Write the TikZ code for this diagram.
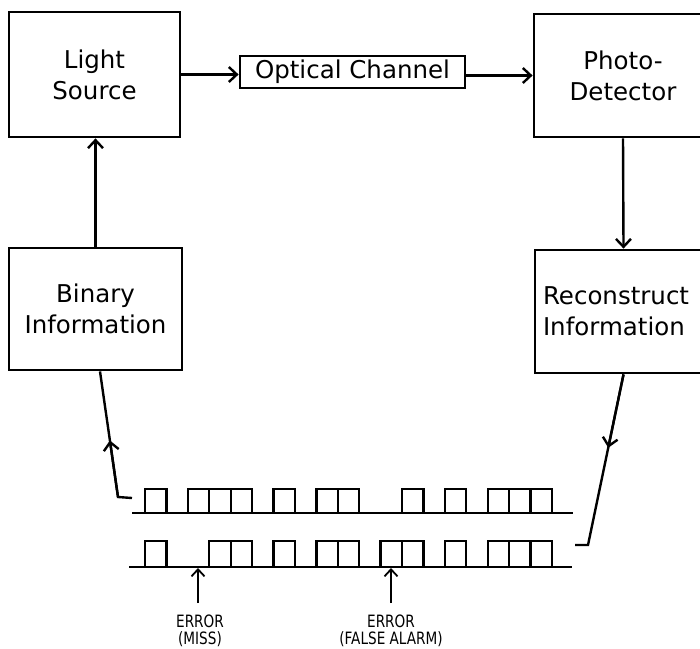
\documentclass[tikz,border=0pt]{standalone}
\usepackage{fontspec}
\setmainfont{DejaVu Sans}
\usetikzlibrary{arrows.meta,calc}
\begin{document}
\begin{tikzpicture}[x=1pt,y=-1pt,
  box/.style={draw,line width=2.8pt,inner sep=0pt,align=center,font=\fontsize{24.5}{31}\selectfont},
  tip/.style={-{Straight Barb[length=8pt,width=15pt,line width=2.4pt]}},
  conn/.style={line width=2.4pt,tip},
  wire/.style={line width=2.4pt},
  pulse/.style={line width=2.3pt},
  lab/.style={align=center,inner sep=0pt,font=\fontsize{17}{17}\selectfont}]
\useasboundingbox (0,0) rectangle (700,648);
\clip (0,0) rectangle (700,648);
% boxes
\node[box,minimum width=171pt,minimum height=125pt] (ls) at (94.5,74.5) {Light\\Source};
\node[box,minimum width=225pt,minimum height=32pt] (oc) at (352.5,72) {Optical Channel};
\node[box,minimum width=178pt,minimum height=123pt] (pd) at (623,75.5) {Photo-\\Detector};
\node[box,minimum width=173pt,minimum height=122pt] (bi) at (95.5,309) {Binary\\Information};
\node[box,minimum height=123pt,inner xsep=8pt,text width=161pt,align=left] (rc) at (623.5,311.5) {Reconstruct\\Information};
% connectors
\draw[conn] (ls.east) -- (ls.east -| oc.west);
\draw[conn] (oc.east |- pd.west) -- (pd.west);
\draw[conn] (pd.south) -- (rc.north);
\draw[conn] (bi.north) -- (bi.north |- ls.south);
% return connectors
\coordinate (tstart) at (132,498);
\coordinate (lcorner) at (118,497);
\coordinate (bstart) at (575,545);
\coordinate (rcorner) at (588,545);
\coordinate (bib) at ([xshift=4.5pt]bi.south);
\draw[wire] (tstart) -- (lcorner) -- (bib);
\draw[conn] (lcorner) -- ($(lcorner)!0.45!(bib)$);
\draw[wire] (rc.south) -- (rcorner) -- (bstart);
\draw[conn] (rc.south) -- ($(rc.south)!0.43!(rcorner)$);
% pulse trains
\def\w{21.42}
\draw[pulse] (132,513) -- (573,513);
\foreach \k in {0,2,3,4,6,8,9,12,14,16,17,18}
  \draw[pulse] ({145+\k*\w},513) -- ({145+\k*\w},489) -- ({145+(\k+1)*\w},489) -- ({145+(\k+1)*\w},513);
\draw[pulse] (129,567) -- (572,567);
\foreach \k in {0,3,4,6,8,9,11,12,14,16,17,18}
  \draw[pulse] ({145+\k*\w},567) -- ({145+\k*\w},541) -- ({145+(\k+1)*\w},541) -- ({145+(\k+1)*\w},567);
% error markers
\coordinate (e1) at (198,603);
\coordinate (e2) at (391,603);
\draw[line width=1.8pt,-{Straight Barb[length=7pt,width=13pt,line width=1.8pt]}] (e1) -- (198,568);
\draw[line width=1.8pt,-{Straight Barb[length=7pt,width=13pt,line width=1.8pt]}] (e2) -- (391,568);
\node[lab] (l1) at (200,631) {\scalebox{0.8}[1]{ERROR}\\\scalebox{0.8}[1]{(MISS)}};
\node[lab] (l2) at (391,631) {\scalebox{0.8}[1]{ERROR}\\\scalebox{0.8}[1]{(FALSE ALARM)}};
\end{tikzpicture}
\end{document}
